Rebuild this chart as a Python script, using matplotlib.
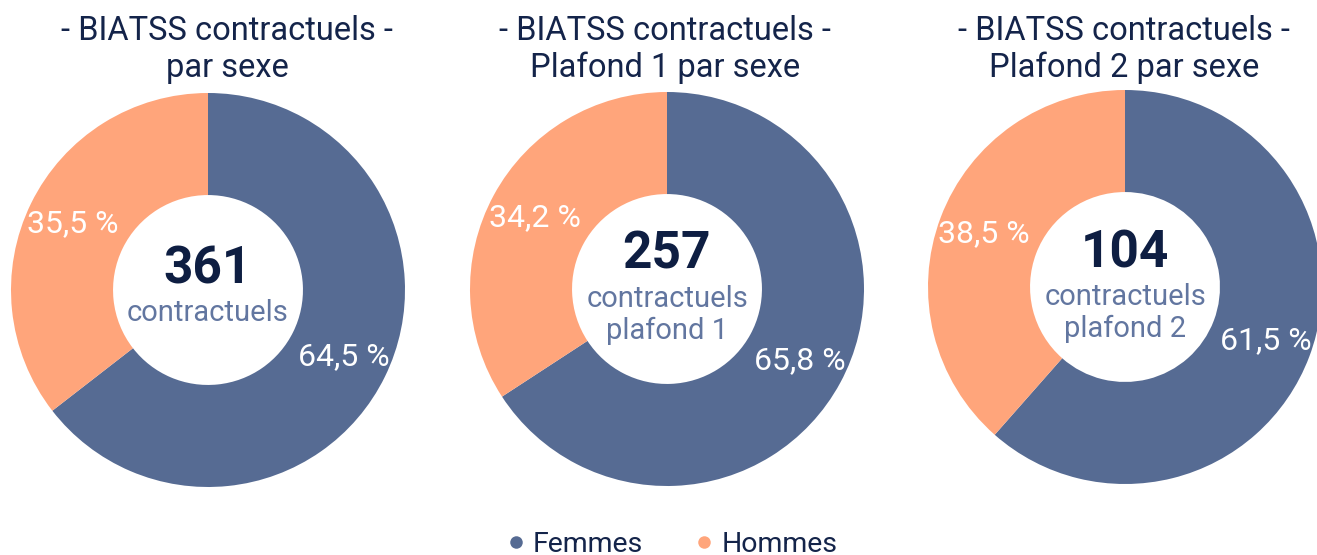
import matplotlib
matplotlib.use("Agg")
import matplotlib.pyplot as plt
from matplotlib.lines import Line2D

W, H = 1317, 555

categories = ["Femmes", "Hommes"]
femmes_pct = [64.5, 65.8, 61.5]
hommes_pct = [35.5, 34.2, 38.5]
totals = [361, 257, 104]
titles = ["- BIATSS contractuels -\npar sexe",
          "- BIATSS contractuels -\nPlafond 1 par sexe",
          "- BIATSS contractuels -\nPlafond 2 par sexe"]
center_labels = ["contractuels", "contractuels\nplafond 1", "contractuels\nplafond 2"]

colors = ["#566b93", "#ffa57b"]
title_color = "#14244a"
num_color = "#0e1e42"
sub_color = "#6276a0"
FONT = "Roboto"
WT = "normal"

# layout (pixels)
centers = [(208, 290), (667, 289), (1125, 287)]
title_x = [227, 665, 1124]
R = 197

fig = plt.figure(figsize=(W / 100, H / 100), dpi=100)
fig.patch.set_facecolor("white")


def fx(x):
    return x / W


def fy(y):
    return 1 - y / H


def fmt(p):
    return f"{p:.1f}".replace(".", ",") + " %"


for i in range(3):
    cx, cy = centers[i]
    ax = fig.add_axes([fx(cx - R), fy(cy + R), 2 * R / W, 2 * R / H])
    vals = [femmes_pct[i], hommes_pct[i]]
    wedges, _, autotexts = ax.pie(
        vals, colors=colors, startangle=90, counterclock=False, radius=1,
        wedgeprops=dict(width=0.518, linewidth=0),
        autopct=fmt, pctdistance=0.765,
        textprops=dict(color="white", fontsize=23, family=FONT, fontweight=WT))
    ax.set_xlim(-1, 1)
    ax.set_ylim(-1, 1)
    ax.axis("off")
    for w in wedges:
        w.set_clip_on(False)
    for t in autotexts:
        t.set_clip_on(False)

    # title
    lines = titles[i].split("\n")
    for k, line in enumerate(lines):
        fig.text(fx(title_x[i]), fy(40 + 37 * k), line, ha="center", va="baseline",
                 fontsize=23.5, color=title_color, family=FONT, fontweight=WT)

    # center text
    sub = center_labels[i].split("\n")
    n = len(sub)
    num_base = cy - 7 - 13 * (n - 1)
    fig.text(fx(cx), fy(num_base), str(totals[i]), ha="center", va="baseline",
             fontsize=37, color=num_color, family=FONT, fontweight="bold")
    for k, line in enumerate(sub):
        fig.text(fx(cx), fy(num_base + 38 + 32 * k), line, ha="center", va="baseline",
                 fontsize=21, color=sub_color, family=FONT, fontweight=WT)

# legend
handles = [Line2D([0], [0], marker="o", linestyle="", markersize=9,
                  markerfacecolor=c, markeredgewidth=0) for c in colors]
leg = fig.legend(handles, categories, loc="center", bbox_to_anchor=(fx(671), fy(544)),
                 ncol=2, frameon=False, handletextpad=0.2, columnspacing=1.75,
                 handlelength=0.8, borderpad=0,
                 prop=dict(family=FONT, size=20.5, weight=WT))
for t in leg.get_texts():
    t.set_color(title_color)

fig.savefig("out.png", dpi=100, facecolor="white")
